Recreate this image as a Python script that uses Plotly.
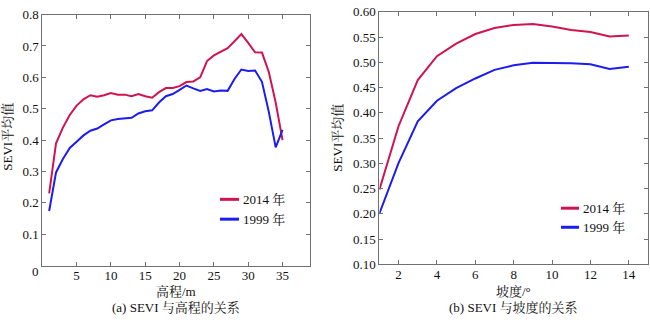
import plotly.graph_objects as go

# ---- data ----
elev = list(range(1, 36))
elev_2014 = [0.23, 0.39, 0.44, 0.48, 0.51, 0.53, 0.543, 0.538, 0.543, 0.55,
             0.545, 0.545, 0.54, 0.547, 0.54, 0.535, 0.553, 0.566, 0.566, 0.572,
             0.585, 0.587, 0.60, 0.652, 0.67, 0.681, 0.693, 0.715, 0.738, 0.71,
             0.68, 0.679, 0.617, 0.52, 0.40]
elev_1999 = [0.174, 0.297, 0.34, 0.375, 0.395, 0.415, 0.43, 0.437, 0.45, 0.463,
             0.467, 0.469, 0.471, 0.485, 0.492, 0.495, 0.52, 0.54, 0.547, 0.56,
             0.574, 0.565, 0.557, 0.563, 0.555, 0.558, 0.557, 0.595, 0.625, 0.62,
             0.622, 0.586, 0.49, 0.377, 0.433]

slope = list(range(1, 15))
slope_2014 = [0.248, 0.374, 0.465, 0.512, 0.537, 0.556, 0.568, 0.574, 0.576, 0.571,
              0.564, 0.560, 0.551, 0.553]
slope_1999 = [0.201, 0.301, 0.383, 0.424, 0.449, 0.468, 0.485, 0.494, 0.499, 0.499,
              0.498, 0.496, 0.487, 0.491]

series_names = ["2014 年", "1999 年"]
RED = "#d1134f"
BLUE = "#1c1cf0"

left_yticks = [0.1, 0.2, 0.3, 0.4, 0.5, 0.6, 0.7, 0.8]
left_xticks = [5, 10, 15, 20, 25, 30, 35]
right_yticks = [0.10, 0.15, 0.20, 0.25, 0.30, 0.35, 0.40, 0.45, 0.50, 0.55, 0.60]
right_xticks = [2, 4, 6, 8, 10, 12, 14]

W, H = 650, 323
FONT = "Liberation Serif, Noto Serif CJK SC, Noto Sans CJK SC, serif"

fig = go.Figure()
fig.add_trace(go.Scatter(x=elev, y=elev_2014, mode="lines", line=dict(color=RED, width=2),
                         xaxis="x", yaxis="y", showlegend=False))
fig.add_trace(go.Scatter(x=elev, y=elev_1999, mode="lines", line=dict(color=BLUE, width=2),
                         xaxis="x", yaxis="y", showlegend=False))
fig.add_trace(go.Scatter(x=slope, y=slope_2014, mode="lines", line=dict(color=RED, width=2),
                         xaxis="x2", yaxis="y2", showlegend=False))
fig.add_trace(go.Scatter(x=slope, y=slope_1999, mode="lines", line=dict(color=BLUE, width=2),
                         xaxis="x2", yaxis="y2", showlegend=False))

def px(x):
    return x / W

def py(y):
    return 1 - y / H

axcommon = dict(showgrid=False, zeroline=False, showline=True, linecolor="#707070",
                linewidth=1, mirror="ticks", ticks="inside", ticklen=4, tickcolor="#707070",
                tickfont=dict(family=FONT, size=13, color="#111"))

fig.update_layout(
    width=W, height=H, margin=dict(l=0, r=0, t=0, b=0),
    paper_bgcolor="white", plot_bgcolor="white",
    xaxis=dict(domain=[px(42.3), px(310)], range=[0, 39], tickvals=left_xticks, anchor="y",
               ticklabelstandoff=-2, **axcommon),
    yaxis=dict(domain=[py(271.2), py(8)], range=[0, 0.8], tickvals=left_yticks,
               tickformat=".1f", anchor="x", **axcommon),
    xaxis2=dict(domain=[px(379.4), px(648)], range=[1, 15], tickvals=right_xticks, anchor="y2",
                ticklabelstandoff=-2, **axcommon),
    yaxis2=dict(domain=[py(270), py(5)], range=[0.10, 0.60], tickvals=right_yticks,
                tickformat=".2f", anchor="x2", **axcommon),
    showlegend=False,
)

ann = []
def text(x, y, t, size=13, angle=0, xanchor="center"):
    ann.append(dict(x=px(x), y=py(y), xref="paper", yref="paper", text=t, showarrow=False,
                    font=dict(family=FONT, size=size, color="#111"), textangle=angle,
                    xanchor=xanchor, yanchor="middle"))

text(35, 277, "0")
text(8, 136, "SEVI平均值", angle=-90)
text(338, 137, "SEVI平均值", angle=-90)
text(176, 298, "高程/m")
text(176, 315, "(a) SEVI 与高程的关系")
text(513, 298, "坡度/°")
text(513, 315, "(b) SEVI 与坡度的关系")

# manual legends
shapes = []
legends = [(220, 239, 201.7, 222.5), (561, 579, 211, 231)]
for (x0, x1, ya, yb) in legends:
    for yy, col, name in [(ya, RED, series_names[0]), (yb, BLUE, series_names[1])]:
        shapes.append(dict(type="line", xref="paper", yref="paper", x0=px(x0), x1=px(x1),
                           y0=py(yy), y1=py(yy), line=dict(color=col, width=3)))
        text(x1 + 2, yy, name, xanchor="left")

fig.update_layout(annotations=ann, shapes=shapes)
fig.write_html("out.html")
